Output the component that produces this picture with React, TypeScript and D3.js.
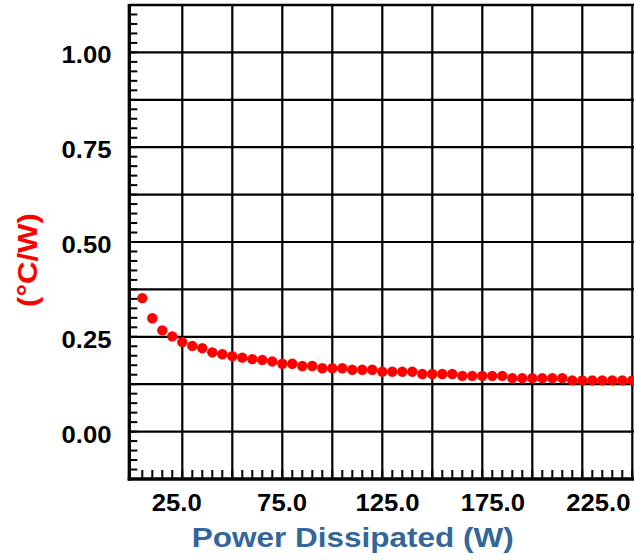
import React, { useRef, useEffect } from 'react';
import * as d3 from 'd3';

// Power dissipated (W) and thermal resistance (°C/W)
const powerW = [
  5, 10, 15, 20, 25, 30, 35, 40, 45, 50,
  55, 60, 65, 70, 75, 80, 85, 90, 95, 100,
  105, 110, 115, 120, 125, 130, 135, 140, 145, 150,
  155, 160, 165, 170, 175, 180, 185, 190, 195, 200,
  205, 210, 215, 220, 225, 230, 235, 240, 245, 250,
];
const thermalRes = [
  0.352, 0.299, 0.267, 0.251, 0.236, 0.226, 0.22, 0.209, 0.204, 0.199,
  0.195, 0.191, 0.189, 0.185, 0.179, 0.179, 0.173, 0.173, 0.167, 0.167,
  0.167, 0.163, 0.163, 0.163, 0.158, 0.158, 0.158, 0.158, 0.152, 0.152,
  0.152, 0.152, 0.147, 0.147, 0.147, 0.147, 0.147, 0.141, 0.141, 0.141,
  0.141, 0.141, 0.141, 0.135, 0.135, 0.135, 0.135, 0.135, 0.135, 0.135,
];

const xTickValues = [25, 75, 125, 175, 225];
const xTickLabels = ['25.0', '75.0', '125.0', '175.0', '225.0'];
const yTickValues = [0, 0.25, 0.5, 0.75, 1.0];
const yTickLabels = ['0.00', '0.25', '0.50', '0.75', '1.00'];

const WIDTH = 634;
const HEIGHT = 560;
const FONT = '"Liberation Sans", Arial, Helvetica, sans-serif';

const ThermalChart: React.FC = () => {
  const svgRef = useRef<SVGSVGElement>(null);

  useEffect(() => {
    if (!svgRef.current) return;
    const svg = d3.select(svgRef.current);
    svg.selectAll('*').remove();

    const left = 129.3;
    const top = 5;
    const bottom = 479;

    const x = d3.scaleLinear().domain([-1.5, 256]).range([left, left + 257.5 * 2]);
    const y = d3.scaleLinear().domain([-0.125, 1.125]).range([bottom, top]);
    // tick labels sit a little off the grid in the original
    const xLabel = d3.scaleLinear().domain([25, 225]).range([x(25) - 5.6, x(225) + 16]);

    const right = x(256);

    // grid
    const grid = svg.append('g').attr('class', 'grid');
    const xGrid = d3.range(25, 256, 25);
    const yGrid = d3.range(0, 1.01, 0.125);
    grid.selectAll('line.vx')
      .data(xGrid)
      .join('line')
      .attr('x1', (d) => x(d)).attr('x2', (d) => x(d))
      .attr('y1', top).attr('y2', bottom)
      .attr('stroke', '#000').attr('stroke-width', 2.2);
    grid.selectAll('line.hy')
      .data(yGrid)
      .join('line')
      .attr('x1', left).attr('x2', right)
      .attr('y1', (d) => y(d)).attr('y2', (d) => y(d))
      .attr('stroke', '#000').attr('stroke-width', 2.2);

    // minor ticks
    const ticks = svg.append('g').attr('class', 'minor-ticks');
    ticks.selectAll('line.tx')
      .data(d3.range(5, 256, 5))
      .join('line')
      .attr('x1', (d) => x(d)).attr('x2', (d) => x(d))
      .attr('y1', bottom).attr('y2', bottom - 9)
      .attr('stroke', '#000').attr('stroke-width', 2);
    ticks.selectAll('line.ty')
      .data(d3.range(-0.1, 1.125, 0.025))
      .join('line')
      .attr('x1', left).attr('x2', left + 8)
      .attr('y1', (d) => y(d)).attr('y2', (d) => y(d))
      .attr('stroke', '#000').attr('stroke-width', 2);

    // frame
    svg.append('line')
      .attr('x1', left).attr('x2', right).attr('y1', top).attr('y2', top)
      .attr('stroke', '#000').attr('stroke-width', 2.6);
    svg.append('line')
      .attr('x1', left).attr('x2', left).attr('y1', top - 1).attr('y2', bottom + 1.6)
      .attr('stroke', '#000').attr('stroke-width', 3.3);
    svg.append('line')
      .attr('x1', left - 1.6).attr('x2', right).attr('y1', bottom).attr('y2', bottom)
      .attr('stroke', '#000').attr('stroke-width', 3.3);

    // points
    svg.append('g').attr('class', 'points')
      .selectAll('circle')
      .data(powerW.map((p, i) => ({ p, r: thermalRes[i] })))
      .join('circle')
      .attr('cx', (d) => x(d.p))
      .attr('cy', (d) => y(d.r))
      .attr('r', 5.2)
      .attr('fill', '#ff0000');

    // x tick labels
    svg.append('g')
      .selectAll('text')
      .data(xTickValues)
      .join('text')
      .attr('transform', (d) => `translate(${xLabel(d)},${510.7}) scale(1.07,1)`)
      .attr('text-anchor', 'middle')
      .attr('font-family', FONT)
      .attr('font-weight', 'bold')
      .attr('font-size', 24)
      .attr('fill', '#000')
      .text((d, i) => xTickLabels[i]);

    // y tick labels
    svg.append('g')
      .selectAll('text')
      .data(yTickValues)
      .join('text')
      .attr('transform', (d) => `translate(${111.5},${y(d) + 11}) scale(1.07,1)`)
      .attr('text-anchor', 'end')
      .attr('font-family', FONT)
      .attr('font-weight', 'bold')
      .attr('font-size', 24)
      .attr('fill', '#000')
      .text((d, i) => yTickLabels[i]);

    // axis titles
    svg.append('text')
      .attr('x', 191.7)
      .attr('y', 546.5)
      .attr('font-family', FONT)
      .attr('font-weight', 'bold')
      .attr('font-size', 27)
      .attr('fill', '#336699')
      .attr('textLength', 322)
      .attr('lengthAdjust', 'spacingAndGlyphs')
      .text('Power Dissipated (W)');

    svg.append('text')
      .attr('transform', 'translate(37,307) rotate(-90)')
      .attr('font-family', FONT)
      .attr('font-weight', 'bold')
      .attr('font-size', 28)
      .attr('fill', '#ff0000')
      .attr('textLength', 94)
      .attr('lengthAdjust', 'spacingAndGlyphs')
      .text('(°C/W)');
  }, []);

  return (
    <svg
      ref={svgRef}
      width={WIDTH}
      height={HEIGHT}
      style={{ position: 'absolute', left: 0, top: 0, background: '#fff' }}
    />
  );
};

export default function App() {
  return <ThermalChart />;
}
